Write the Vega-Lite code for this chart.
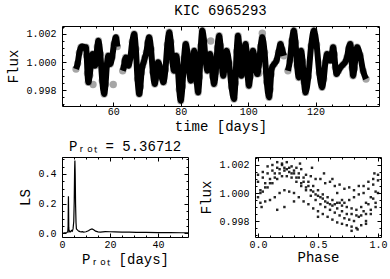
{
"$schema": "https://vega.github.io/schema/vega-lite/v6.json",
"background": "white",
"padding": {"left": 6, "top": 3, "right": 5, "bottom": 3},
"config": {
  "font": "Liberation Mono",
  "view": {"stroke": "black", "strokeWidth": 1},
  "axis": {"domain": false, "grid": false, "tickColor": "black", "tickWidth": 1, "labelColor": "black", "titleColor": "black", "labelFont": "Liberation Mono", "titleFont": "Liberation Mono", "labelFontSize": 10, "titleFontSize": 14, "titleFontWeight": "normal", "labelFlush": false, "labelOverlap": false},
  "title": {"font": "Liberation Mono", "fontSize": 14, "fontWeight": "normal", "color": "black"}
},
"datasets": {
  "lc": [
    {"t":48.95,"f":0.9995,"s":"a"},{"t":49.44,"f":0.99989,"s":"a"},{"t":49.94,"f":1.00066,"s":"a"},{"t":50.43,"f":1.00105,"s":"a"},{"t":50.9,"f":1.0011,"s":"a"},{"t":51.4,"f":1.001,"s":"a"},{"t":51.91,"f":1.00105,"s":"a"},{"t":52.14,"f":1.00043,"s":"a"},{"t":52.37,"f":0.99918,"s":"a"},{"t":52.6,"f":0.99855,"s":"a"},{"t":53.03,"f":0.99906,"s":"a"},{"t":53.47,"f":1.00006,"s":"a"},{"t":53.9,"f":1.00057,"s":"a"},{"t":54.13,"f":1.00036,"s":"a"},{"t":54.37,"f":0.99995,"s":"a"},{"t":54.6,"f":0.99974,"s":"a"},{"t":54.93,"f":1.00018,"s":"a"},{"t":55.27,"f":1.00108,"s":"a"},{"t":55.6,"f":1.00152,"s":"a"},{"t":56.16,"f":1.00057,"s":"a"},{"t":56.74,"f":0.99866,"s":"a"},{"t":57.3,"f":0.99771,"s":"a"},{"t":57.7,"f":0.9984,"s":"a"},{"t":58.1,"f":0.99977,"s":"a"},{"t":58.5,"f":1.00045,"s":"a"},{"t":58.8,"f":1.00015,"s":"a"},{"t":59.1,"f":0.99986,"s":"a"},{"t":59.66,"f":1.00034,"s":"a"},{"t":60.24,"f":1.00129,"s":"a"},{"t":60.8,"f":1.00176,"s":"a"},{"t":61.2,"f":1.0011,"s":"a"},
    {"t":62.8,"f":0.99938,"s":"b"},{"t":63.1,"f":0.99962,"s":"b"},{"t":63.4,"f":1.00009,"s":"b"},{"t":63.7,"f":1.00033,"s":"b"},{"t":64.1,"f":1.0,"s":"b"},{"t":64.5,"f":0.99974,"s":"b"},{"t":65.06,"f":1.0003,"s":"b"},{"t":65.64,"f":1.00144,"s":"b"},{"t":66.2,"f":1.002,"s":"b"},{"t":66.7,"f":1.00093,"s":"b"},{"t":67.2,"f":0.99878,"s":"b"},{"t":67.7,"f":0.99771,"s":"b"},{"t":68.03,"f":0.99822,"s":"b"},{"t":68.37,"f":0.99923,"s":"b"},{"t":68.7,"f":0.99974,"s":"b"},{"t":69.05,"f":1.0,"s":"b"},{"t":69.4,"f":1.00033,"s":"b"},{"t":69.82,"f":1.00069,"s":"b"},{"t":70.24,"f":1.0014,"s":"b"},{"t":70.65,"f":1.00176,"s":"b"},{"t":71.2,"f":1.00093,"s":"b"},{"t":71.75,"f":0.99926,"s":"b"},{"t":72.3,"f":0.99843,"s":"b"},{"t":72.63,"f":0.99882,"s":"b"},{"t":72.97,"f":0.99959,"s":"b"},{"t":73.3,"f":0.99998,"s":"b"},{"t":73.83,"f":0.99962,"s":"b"},{"t":74.37,"f":0.99891,"s":"b"},{"t":74.9,"f":0.99855,"s":"b"},{"t":75.46,"f":0.99944,"s":"b"},{"t":76.04,"f":1.00123,"s":"b"},{"t":76.6,"f":1.00212,"s":"b"},{"t":77.06,"f":1.00144,"s":"b"},{"t":77.54,"f":1.00006,"s":"b"},{"t":78.0,"f":0.99938,"s":"b"},{"t":78.35,"f":0.99992,"s":"b"},{"t":78.7,"f":1.00045,"s":"b"},{"t":79.13,"f":0.99965,"s":"b"},{"t":79.57,"f":0.99804,"s":"b"},{"t":80.0,"f":0.99724,"s":"b"},{"t":80.5,"f":0.99825,"s":"b"},{"t":81.0,"f":1.00028,"s":"b"},{"t":81.5,"f":1.00129,"s":"b"},{"t":82.0,"f":1.00064,"s":"b"},{"t":82.5,"f":0.99932,"s":"b"},{"t":83.0,"f":0.99867,"s":"b"},{"t":83.33,"f":0.9992,"s":"b"},{"t":83.67,"f":1.00028,"s":"b"},{"t":84.0,"f":1.00081,"s":"b"},{"t":84.38,"f":1.00007,"s":"b"},{"t":84.77,"f":0.99858,"s":"b"},{"t":85.15,"f":0.99783,"s":"b"},{"t":85.56,"f":0.99893,"s":"b"},{"t":85.98,"f":1.00114,"s":"b"},{"t":86.4,"f":1.00224,"s":"b"},{"t":86.9,"f":1.00153,"s":"b"},{"t":87.4,"f":1.0001,"s":"b"},{"t":87.9,"f":0.99938,"s":"b"},{"t":88.3,"f":0.99998,"s":"b"},{"t":88.7,"f":1.00057,"s":"b"},{"t":89.1,"f":1.00004,"s":"b"},{"t":89.5,"f":0.99897,"s":"b"},{"t":89.9,"f":0.99843,"s":"b"},{"t":90.4,"f":0.99929,"s":"b"},{"t":90.9,"f":1.00102,"s":"b"},{"t":91.4,"f":1.00188,"s":"b"},{"t":91.8,"f":1.00117,"s":"b"},{"t":92.2,"f":0.99974,"s":"b"},{"t":92.6,"f":0.99902,"s":"b"},{"t":92.93,"f":0.99947,"s":"b"},{"t":93.27,"f":1.00036,"s":"b"},{"t":93.6,"f":1.00081,"s":"b"},{"t":94.33,"f":0.99995,"s":"b"},{"t":95.07,"f":0.99822,"s":"b"},{"t":95.8,"f":0.99736,"s":"b"},{"t":96.2,"f":0.99849,"s":"b"},{"t":96.6,"f":1.00075,"s":"b"},{"t":97.0,"f":1.00188,"s":"b"},{"t":97.33,"f":1.00117,"s":"b"},{"t":97.67,"f":0.99974,"s":"b"},{"t":98.0,"f":0.99902,"s":"b"},{"t":98.42,"f":0.99959,"s":"b"},{"t":98.83,"f":1.00072,"s":"b"},{"t":99.25,"f":1.00129,"s":"b"},{"t":99.57,"f":1.00054,"s":"b"},{"t":99.88,"f":0.99906,"s":"b"},{"t":100.2,"f":0.99831,"s":"b"},{"t":100.6,"f":0.99893,"s":"b"},{"t":101.0,"f":1.00018,"s":"b"},{"t":101.4,"f":1.00081,"s":"b"},{"t":101.83,"f":1.0004,"s":"b"},{"t":102.27,"f":0.99956,"s":"b"},{"t":102.7,"f":0.99914,"s":"b"},{"t":103.2,"f":0.99979,"s":"b"},{"t":103.7,"f":1.00111,"s":"b"},{"t":104.2,"f":1.00176,"s":"b"},{"t":104.87,"f":1.00069,"s":"b"},{"t":105.53,"f":0.99855,"s":"b"},{"t":106.2,"f":0.99748,"s":"b"},{"t":106.5,"f":0.99802,"s":"b"},{"t":106.8,"f":0.99909,"s":"b"},{"t":107.1,"f":0.99962,"s":"b"},{"t":107.75,"f":0.99986,"s":"b"},{"t":108.4,"f":1.0001,"s":"b"},{"t":109.0,"f":1.0007,"s":"b"},{"t":109.6,"f":1.00129,"s":"b"},{"t":110.1,"f":1.00087,"s":"b"},{"t":110.6,"f":1.00045,"s":"b"},
    {"t":111.8,"f":0.99938,"s":"c"},{"t":112.38,"f":1.0001,"s":"c"},{"t":112.97,"f":1.00153,"s":"c"},{"t":113.55,"f":1.00224,"s":"c"},{"t":114.03,"f":1.00141,"s":"c"},{"t":114.52,"f":0.99974,"s":"c"},{"t":115.0,"f":0.9989,"s":"c"},{"t":115.35,"f":0.99985,"s":"c"},{"t":115.7,"f":1.0008,"s":"c"},{"t":116.13,"f":1.00006,"s":"c"},{"t":116.57,"f":0.99857,"s":"c"},{"t":117.0,"f":0.99783,"s":"c"},{"t":117.83,"f":0.99893,"s":"c"},{"t":118.67,"f":1.00114,"s":"c"},{"t":119.5,"f":1.00224,"s":"c"},{"t":120.3,"f":1.00123,"s":"c"},{"t":121.1,"f":0.99921,"s":"c"},{"t":121.9,"f":0.9982,"s":"c"},{"t":122.4,"f":0.99879,"s":"c"},{"t":122.9,"f":0.99998,"s":"c"},{"t":123.4,"f":1.00057,"s":"c"},{"t":123.9,"f":1.00034,"s":"c"},{"t":124.4,"f":1.0001,"s":"c"},{"t":124.8,"f":1.00057,"s":"c"},{"t":125.2,"f":1.00105,"s":"c"},{"t":125.53,"f":1.00057,"s":"c"},{"t":125.87,"f":0.99962,"s":"c"},{"t":126.2,"f":0.99914,"s":"c"},{"t":126.8,"f":0.99938,"s":"c"},{"t":127.4,"f":0.99962,"s":"c"},{"t":128.1,"f":0.99981,"s":"c"},{"t":128.8,"f":1.0,"s":"c"},{"t":129.3,"f":1.00032,"s":"c"},{"t":129.8,"f":1.00097,"s":"c"},{"t":130.3,"f":1.00129,"s":"c"},{"t":130.57,"f":1.00072,"s":"c"},{"t":130.83,"f":0.99959,"s":"c"},{"t":131.1,"f":0.99902,"s":"c"},{"t":131.5,"f":0.99953,"s":"c"},{"t":131.9,"f":1.00054,"s":"c"},{"t":132.3,"f":1.00105,"s":"c"},{"t":133.2,"f":1.00048,"s":"c"},{"t":134.1,"f":0.99936,"s":"c"},{"t":134.95,"f":0.99879,"s":"c"},
    {"t":54.0,"f":0.9984,"s":"o1"},{"t":60.0,"f":0.9984,"s":"o2"},{"t":88.9,"f":1.0015,"s":"o3"},{"t":103.2,"f":0.9992,"s":"o4"},{"t":104.2,"f":1.00205,"s":"o5"}
  ],
  "ls": [
    {"p":0.5,"pw":0.002},{"p":1.0,"pw":0.003},{"p":1.5,"pw":0.004},{"p":2.0,"pw":0.006},{"p":2.4,"pw":0.01},{"p":2.55,"pw":0.05},{"p":2.62,"pw":0.18},{"p":2.68,"pw":0.25},{"p":2.74,"pw":0.17},{"p":2.82,"pw":0.04},{"p":3.0,"pw":0.01},{"p":3.3,"pw":0.015},{"p":3.6,"pw":0.01},{"p":4.0,"pw":0.02},{"p":4.3,"pw":0.015},{"p":4.6,"pw":0.03},{"p":4.9,"pw":0.08},{"p":5.1,"pw":0.22},{"p":5.25,"pw":0.42},{"p":5.37,"pw":0.49},{"p":5.5,"pw":0.4},{"p":5.65,"pw":0.2},{"p":5.85,"pw":0.07},{"p":6.0,"pw":0.03},{"p":6.3,"pw":0.025},{"p":6.6,"pw":0.02},{"p":7.0,"pw":0.015},{"p":7.5,"pw":0.012},{"p":8.0,"pw":0.01},{"p":8.5,"pw":0.012},{"p":9.0,"pw":0.009},{"p":10.0,"pw":0.011},{"p":11.0,"pw":0.018},{"p":11.8,"pw":0.026},{"p":12.5,"pw":0.03},{"p":13.2,"pw":0.025},{"p":14.0,"pw":0.015},{"p":15.0,"pw":0.01},{"p":16.0,"pw":0.008},{"p":17.0,"pw":0.01},{"p":18.0,"pw":0.012},{"p":20.0,"pw":0.011},{"p":22.0,"pw":0.01},{"p":25.0,"pw":0.009},{"p":28.0,"pw":0.008},{"p":31.0,"pw":0.007},{"p":35.0,"pw":0.006},{"p":40.0,"pw":0.005},{"p":45.0,"pw":0.005},{"p":50.0,"pw":0.004},{"p":52.5,"pw":0.004}
  ],
  "ph": [
    {"ph":0.0,"f":1.0013},{"ph":0.04,"f":1.0015},{"ph":0.08,"f":1.0019},{"ph":0.12,"f":1.002},{"ph":0.16,"f":1.0022},{"ph":0.2,"f":1.0021},{"ph":0.24,"f":1.0022},{"ph":0.28,"f":1.0019},{"ph":0.32,"f":1.0018},{"ph":0.36,"f":1.0017},{"ph":0.4,"f":1.0013},{"ph":0.44,"f":1.0012},{"ph":0.48,"f":1.001},{"ph":0.52,"f":1.001},{"ph":0.56,"f":1.0007},{"ph":0.6,"f":1.0008},{"ph":0.64,"f":1.0005},{"ph":0.68,"f":1.0006},{"ph":0.72,"f":1.0003},{"ph":0.76,"f":1.0004},{"ph":0.8,"f":1.0002},{"ph":0.84,"f":1.0005},{"ph":0.88,"f":1.0005},{"ph":0.92,"f":1.0008},{"ph":0.96,"f":1.001},{"ph":1.0,"f":1.0013},
    {"ph":0.02,"f":1.0002},{"ph":0.06,"f":1.0007},{"ph":0.1,"f":1.001},{"ph":0.14,"f":1.0014},{"ph":0.18,"f":1.0017},{"ph":0.22,"f":1.0018},{"ph":0.26,"f":1.0018},{"ph":0.3,"f":1.0016},{"ph":0.34,"f":1.0014},{"ph":0.38,"f":1.0011},{"ph":0.42,"f":1.0008},{"ph":0.46,"f":1.0005},{"ph":0.5,"f":1.0002},{"ph":0.54,"f":0.9999},{"ph":0.58,"f":0.9997},{"ph":0.62,"f":0.9995},{"ph":0.66,"f":0.9993},{"ph":0.7,"f":0.9991},{"ph":0.74,"f":0.999},{"ph":0.78,"f":0.9989},{"ph":0.82,"f":0.9988},{"ph":0.86,"f":0.999},{"ph":0.9,"f":0.9993},{"ph":0.94,"f":0.9997},{"ph":0.98,"f":1.0001},
    {"ph":0.0,"f":0.9997},{"ph":0.04,"f":1.0001},{"ph":0.08,"f":1.0004},{"ph":0.12,"f":1.0007},{"ph":0.16,"f":1.001},{"ph":0.2,"f":1.0012},{"ph":0.24,"f":1.0012},{"ph":0.28,"f":1.0011},{"ph":0.32,"f":1.0008},{"ph":0.36,"f":1.0005},{"ph":0.4,"f":1.0002},{"ph":0.44,"f":0.9998},{"ph":0.48,"f":0.9995},{"ph":0.52,"f":0.9992},{"ph":0.56,"f":0.999},{"ph":0.6,"f":0.9988},{"ph":0.64,"f":0.9986},{"ph":0.68,"f":0.9984},{"ph":0.72,"f":0.9982},{"ph":0.76,"f":0.9981},{"ph":0.8,"f":0.998},{"ph":0.84,"f":0.9983},{"ph":0.88,"f":0.9987},{"ph":0.92,"f":0.9992},{"ph":0.96,"f":0.9996},{"ph":1.0,"f":1.0},
    {"ph":0.02,"f":0.9993},{"ph":0.06,"f":0.9994},{"ph":0.1,"f":0.9995},{"ph":0.14,"f":0.9997},{"ph":0.18,"f":1.0},{"ph":0.22,"f":1.0002},{"ph":0.26,"f":1.0001},{"ph":0.3,"f":1.0},{"ph":0.34,"f":0.9997},{"ph":0.38,"f":0.9994},{"ph":0.42,"f":0.9992},{"ph":0.46,"f":0.9989},{"ph":0.5,"f":0.9987},{"ph":0.54,"f":0.9985},{"ph":0.58,"f":0.9983},{"ph":0.62,"f":0.9981},{"ph":0.66,"f":0.9979},{"ph":0.7,"f":0.9978},{"ph":0.74,"f":0.9977},{"ph":0.78,"f":0.9976},{"ph":0.82,"f":0.9975},{"ph":0.86,"f":0.9977},{"ph":0.9,"f":0.998},{"ph":0.94,"f":0.9985},{"ph":0.98,"f":0.999},
    {"ph":0.0,"f":1.0008},{"ph":0.04,"f":1.0011},{"ph":0.08,"f":1.0014},{"ph":0.12,"f":1.0016},{"ph":0.16,"f":1.0018},{"ph":0.2,"f":1.002},{"ph":0.24,"f":1.0017},{"ph":0.28,"f":1.0014},{"ph":0.32,"f":1.0011},{"ph":0.36,"f":1.0007},{"ph":0.4,"f":1.0004},{"ph":0.44,"f":1.0002},{"ph":0.48,"f":0.9999},{"ph":0.52,"f":0.9997},{"ph":0.56,"f":0.9994},{"ph":0.6,"f":0.9992},{"ph":0.64,"f":0.9992},{"ph":0.68,"f":0.9993},{"ph":0.72,"f":0.9993},{"ph":0.76,"f":0.9995},{"ph":0.8,"f":0.9997},{"ph":0.84,"f":0.9999},{"ph":0.88,"f":1.0},{"ph":0.92,"f":1.0003},{"ph":0.96,"f":1.0006},{"ph":1.0,"f":1.0009},
    {"ph":0.02,"f":1.0},{"ph":0.06,"f":1.0004},{"ph":0.1,"f":1.0007},{"ph":0.14,"f":1.0011},{"ph":0.18,"f":1.0014},{"ph":0.22,"f":1.0016},{"ph":0.26,"f":1.0015},{"ph":0.3,"f":1.0014},{"ph":0.34,"f":1.0011},{"ph":0.38,"f":1.0008},{"ph":0.42,"f":1.0005},{"ph":0.46,"f":1.0001},{"ph":0.5,"f":0.9998},{"ph":0.54,"f":0.9996},{"ph":0.58,"f":0.9993},{"ph":0.62,"f":0.9991},{"ph":0.66,"f":0.9989},{"ph":0.7,"f":0.9987},{"ph":0.74,"f":0.9985},{"ph":0.78,"f":0.9985},{"ph":0.82,"f":0.9984},{"ph":0.86,"f":0.9984},{"ph":0.9,"f":0.9985},{"ph":0.94,"f":0.9988},{"ph":0.98,"f":0.9993},
    {"ph":0.16,"f":0.9988},{"ph":0.22,"f":0.999},{"ph":0.35,"f":1.0021},{"ph":0.45,"f":1.0018},{"ph":0.55,"f":1.0014},{"ph":0.62,"f":1.001},{"ph":0.7,"f":0.9995},{"ph":0.78,"f":0.9973},{"ph":0.83,"f":0.9974},{"ph":0.9,"f":0.9978},{"ph":0.97,"f":1.0014},{"ph":0.03,"f":0.999},{"ph":0.5,"f":0.9983},{"ph":0.66,"f":1.0},{"ph":0.3,"f":0.9994}
  ]
},
"spacing": 5,
"vconcat": [
  {
    "width": 317, "height": 80,
    "title": {"text": "KIC 6965293", "offset": 1},
    "layer": [
      {"data": {"name": "lc"}, "mark": {"type": "line", "color": "black", "strokeWidth": 6, "interpolate": "monotone"},
       "encoding": {
         "x": {"field": "t", "type": "quantitative", "scale": {"domain": [44.8, 138.8], "nice": false, "zero": false}, "axis": {"orient": "bottom", "values": [60, 80, 100, 120], "tickSize": -4, "labelPadding": 4, "title": "time [days]", "titlePadding": 3}},
         "y": {"field": "f", "type": "quantitative", "scale": {"domain": [0.99686, 1.00257], "nice": false, "zero": false}, "axis": {"orient": "left", "values": [0.998, 1.0, 1.002], "format": ".3f", "tickSize": -4, "labelPadding": 10, "title": "Flux", "titlePadding": 5}},
         "detail": {"field": "s"}}},
      {"data": {"name": "lc"}, "mark": {"type": "circle", "color": "black", "size": 55, "opacity": 0.35},
       "encoding": {"x": {"field": "t", "type": "quantitative", "axis": null}, "y": {"field": "f", "type": "quantitative", "axis": null}}},
      {"data": {"name": "lc"}, "mark": {"type": "point", "opacity": 0},
       "encoding": {
         "x": {"aggregate": "min", "field": "t", "type": "quantitative", "axis": {"orient": "bottom", "values": [45, 50, 55, 65, 70, 75, 85, 90, 95, 105, 110, 115, 125, 130, 135], "tickSize": -2, "labels": false, "title": null}},
         "y": {"aggregate": "min", "field": "f", "type": "quantitative", "axis": {"orient": "left", "values": [0.997, 0.9975, 0.9985, 0.999, 0.9995, 1.0005, 1.001, 1.0015, 1.0025], "tickSize": -2, "labels": false, "title": null}}}},
      {"data": {"name": "lc"}, "mark": {"type": "point", "opacity": 0},
       "encoding": {
         "x": {"aggregate": "min", "field": "t", "type": "quantitative", "axis": {"orient": "top", "values": [60, 80, 100, 120], "tickSize": -4, "labels": false, "title": null}},
         "y": {"aggregate": "min", "field": "f", "type": "quantitative", "axis": {"orient": "right", "values": [0.998, 1.0, 1.002], "tickSize": -4, "labels": false, "title": null}}}},
      {"data": {"name": "lc"}, "mark": {"type": "point", "opacity": 0},
       "encoding": {
         "x": {"aggregate": "min", "field": "t", "type": "quantitative", "axis": {"orient": "top", "values": [45, 50, 55, 65, 70, 75, 85, 90, 95, 105, 110, 115, 125, 130, 135], "tickSize": -2, "labels": false, "title": null}},
         "y": {"aggregate": "min", "field": "f", "type": "quantitative", "axis": {"orient": "right", "values": [0.997, 0.9975, 0.9985, 0.999, 0.9995, 1.0005, 1.001, 1.0015, 1.0025], "tickSize": -2, "labels": false, "title": null}}}}
    ],
    "resolve": {"axis": {"x": "independent", "y": "independent"}}
  },
  {
    "spacing": 8,
    "hconcat": [
      {
        "width": 126, "height": 80,
        "title": {"text": "P\u1d63\u2092\u209c = 5.36712", "offset": 3},
        "layer": [
          {"data": {"name": "ls"}, "mark": {"type": "line", "color": "black", "strokeWidth": 1.2},
           "encoding": {
             "x": {"field": "p", "type": "quantitative", "scale": {"domain": [0, 52.5], "nice": false, "zero": false}, "axis": {"orient": "bottom", "values": [0, 20, 40], "format": "d", "tickSize": -4, "labelPadding": 6, "title": "P\u1d63\u2092\u209c [days]", "titlePadding": 3}},
             "y": {"field": "pw", "type": "quantitative", "scale": {"domain": [-0.0245, 0.5145], "nice": false, "zero": false}, "axis": {"orient": "left", "values": [0, 0.2, 0.4], "format": ".1f", "tickSize": -4, "labelPadding": 10, "title": "LS", "titlePadding": 5}}}},
          {"data": {"name": "ls"}, "mark": {"type": "point", "opacity": 0},
           "encoding": {
             "x": {"aggregate": "min", "field": "p", "type": "quantitative", "axis": {"orient": "bottom", "values": [5, 10, 15, 25, 30, 35, 45, 50], "tickSize": -2, "labels": false, "title": null}},
             "y": {"aggregate": "min", "field": "pw", "type": "quantitative", "axis": {"orient": "left", "values": [0.05, 0.1, 0.15, 0.25, 0.3, 0.35, 0.45, 0.5], "tickSize": -2, "labels": false, "title": null}}}},
          {"data": {"name": "ls"}, "mark": {"type": "point", "opacity": 0},
           "encoding": {
             "x": {"aggregate": "min", "field": "p", "type": "quantitative", "axis": {"orient": "top", "values": [0, 20, 40], "tickSize": -4, "labels": false, "title": null}},
             "y": {"aggregate": "min", "field": "pw", "type": "quantitative", "axis": {"orient": "right", "values": [0, 0.2, 0.4], "tickSize": -4, "labels": false, "title": null}}}},
          {"data": {"name": "ls"}, "mark": {"type": "point", "opacity": 0},
           "encoding": {
             "x": {"aggregate": "min", "field": "p", "type": "quantitative", "axis": {"orient": "top", "values": [5, 10, 15, 25, 30, 35, 45, 50], "tickSize": -2, "labels": false, "title": null}},
             "y": {"aggregate": "min", "field": "pw", "type": "quantitative", "axis": {"orient": "right", "values": [0.05, 0.1, 0.15, 0.25, 0.3, 0.35, 0.45, 0.5], "tickSize": -2, "labels": false, "title": null}}}}
        ],
        "resolve": {"axis": {"x": "independent", "y": "independent"}}
      },
      {
        "width": 126, "height": 80,
        "layer": [
          {"data": {"name": "ph"}, "mark": {"type": "square", "color": "black", "size": 6, "opacity": 0.85},
           "encoding": {
             "x": {"field": "ph", "type": "quantitative", "scale": {"domain": [-0.025, 1.025], "nice": false, "zero": false}, "axis": {"orient": "bottom", "values": [0, 0.5, 1], "format": ".1f", "tickSize": -4, "labelPadding": 6, "title": "Phase", "titlePadding": 1}},
             "y": {"field": "f", "type": "quantitative", "scale": {"domain": [0.99686, 1.00257], "nice": false, "zero": false}, "axis": {"orient": "left", "values": [0.998, 1.0, 1.002], "format": ".3f", "tickSize": -4, "labelPadding": 10, "title": "Flux", "titlePadding": 5}}}},
          {"data": {"name": "ph"}, "mark": {"type": "point", "opacity": 0},
           "encoding": {
             "x": {"aggregate": "min", "field": "ph", "type": "quantitative", "axis": {"orient": "bottom", "values": [0.1, 0.2, 0.3, 0.4, 0.6, 0.7, 0.8, 0.9], "tickSize": -2, "labels": false, "title": null}},
             "y": {"aggregate": "min", "field": "f", "type": "quantitative", "axis": {"orient": "left", "values": [0.997, 0.9975, 0.9985, 0.999, 0.9995, 1.0005, 1.001, 1.0015, 1.0025], "tickSize": -2, "labels": false, "title": null}}}},
          {"data": {"name": "ph"}, "mark": {"type": "point", "opacity": 0},
           "encoding": {
             "x": {"aggregate": "min", "field": "ph", "type": "quantitative", "axis": {"orient": "top", "values": [0, 0.5, 1], "tickSize": -4, "labels": false, "title": null}},
             "y": {"aggregate": "min", "field": "f", "type": "quantitative", "axis": {"orient": "right", "values": [0.998, 1.0, 1.002], "tickSize": -4, "labels": false, "title": null}}}},
          {"data": {"name": "ph"}, "mark": {"type": "point", "opacity": 0},
           "encoding": {
             "x": {"aggregate": "min", "field": "ph", "type": "quantitative", "axis": {"orient": "top", "values": [0.1, 0.2, 0.3, 0.4, 0.6, 0.7, 0.8, 0.9], "tickSize": -2, "labels": false, "title": null}},
             "y": {"aggregate": "min", "field": "f", "type": "quantitative", "axis": {"orient": "right", "values": [0.997, 0.9975, 0.9985, 0.999, 0.9995, 1.0005, 1.001, 1.0015, 1.0025], "tickSize": -2, "labels": false, "title": null}}}}
        ],
        "resolve": {"axis": {"x": "independent", "y": "independent"}}
      }
    ]
  }
]
}
